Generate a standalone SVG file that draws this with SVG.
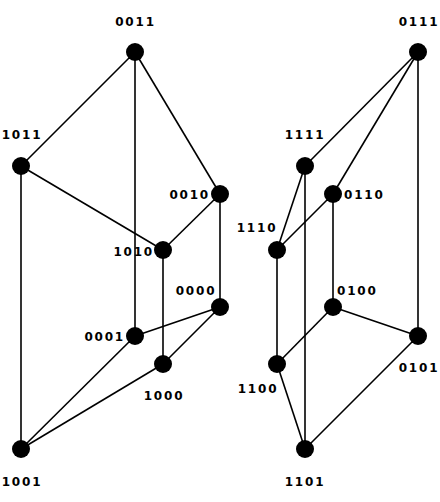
<svg xmlns="http://www.w3.org/2000/svg" width="440" height="502" viewBox="0 0 440 502">
<style>
.e{stroke:#000;stroke-width:1.6;fill:none}
.n{fill:#000}
text{font-family:"DejaVu Sans",sans-serif;font-size:12px;font-weight:bold;letter-spacing:1.8px;fill:#000}
.m{text-anchor:middle}
.r{text-anchor:end}
</style>
<rect width="440" height="502" fill="#fff"/>
<g id="connectors">
<line class="e" x1="135" y1="52" x2="21" y2="166"/>
<line class="e" x1="135" y1="52" x2="135" y2="336"/>
<line class="e" x1="135" y1="52" x2="220" y2="194"/>
<line class="e" x1="21" y1="166" x2="163" y2="250"/>
<line class="e" x1="21" y1="166" x2="21" y2="449"/>
<line class="e" x1="220" y1="194" x2="163" y2="250"/>
<line class="e" x1="220" y1="194" x2="220" y2="307"/>
<line class="e" x1="163" y1="250" x2="163" y2="364"/>
<line class="e" x1="220" y1="307" x2="135" y2="336"/>
<line class="e" x1="220" y1="307" x2="163" y2="364"/>
<line class="e" x1="135" y1="336" x2="21" y2="449"/>
<line class="e" x1="163" y1="364" x2="21" y2="449"/>
<line class="e" x1="418" y1="52" x2="305" y2="166"/>
<line class="e" x1="418" y1="52" x2="333" y2="194"/>
<line class="e" x1="418" y1="52" x2="418" y2="336"/>
<line class="e" x1="305" y1="166" x2="277" y2="250"/>
<line class="e" x1="305" y1="166" x2="305" y2="449"/>
<line class="e" x1="333" y1="194" x2="277" y2="250"/>
<line class="e" x1="333" y1="194" x2="333" y2="307"/>
<line class="e" x1="277" y1="250" x2="277" y2="364"/>
<line class="e" x1="333" y1="307" x2="277" y2="364"/>
<line class="e" x1="333" y1="307" x2="418" y2="336"/>
<line class="e" x1="277" y1="364" x2="305" y2="449"/>
<line class="e" x1="418" y1="336" x2="305" y2="449"/>
</g>
<g id="n0011"><circle class="n" cx="135" cy="52" r="9"/><text class="m" x="135.5" y="26">0011</text></g>
<g id="n1011"><circle class="n" cx="21" cy="166" r="9"/><text class="m" x="22" y="139">1011</text></g>
<g id="n0010"><circle class="n" cx="220" cy="194" r="9"/><text class="r" x="210" y="199">0010</text></g>
<g id="n1010"><circle class="n" cx="163" cy="250" r="9"/><text class="r" x="154" y="256">1010</text></g>
<g id="n0000"><circle class="n" cx="220" cy="307" r="9"/><text class="m" x="196" y="295">0000</text></g>
<g id="n0001"><circle class="n" cx="135" cy="336" r="9"/><text class="r" x="125" y="341">0001</text></g>
<g id="n1000"><circle class="n" cx="163" cy="364" r="9"/><text class="m" x="164" y="400">1000</text></g>
<g id="n1001"><circle class="n" cx="21" cy="449" r="9"/><text class="m" x="22" y="486">1001</text></g>
<g id="n0111"><circle class="n" cx="418" cy="52" r="9"/><text class="m" x="419" y="26">0111</text></g>
<g id="n1111"><circle class="n" cx="305" cy="166" r="9"/><text class="m" x="305" y="139">1111</text></g>
<g id="n0110"><circle class="n" cx="333" cy="194" r="9"/><text x="344" y="199">0110</text></g>
<g id="n1110"><circle class="n" cx="277" cy="250" r="9"/><text class="m" x="257" y="232">1110</text></g>
<g id="n0100"><circle class="n" cx="333" cy="307" r="9"/><text x="337" y="295">0100</text></g>
<g id="n0101"><circle class="n" cx="418" cy="336" r="9"/><text class="m" x="419" y="372">0101</text></g>
<g id="n1100"><circle class="n" cx="277" cy="364" r="9"/><text class="m" x="258" y="393">1100</text></g>
<g id="n1101"><circle class="n" cx="305" cy="449" r="9"/><text class="m" x="305" y="486">1101</text></g>
</svg>
